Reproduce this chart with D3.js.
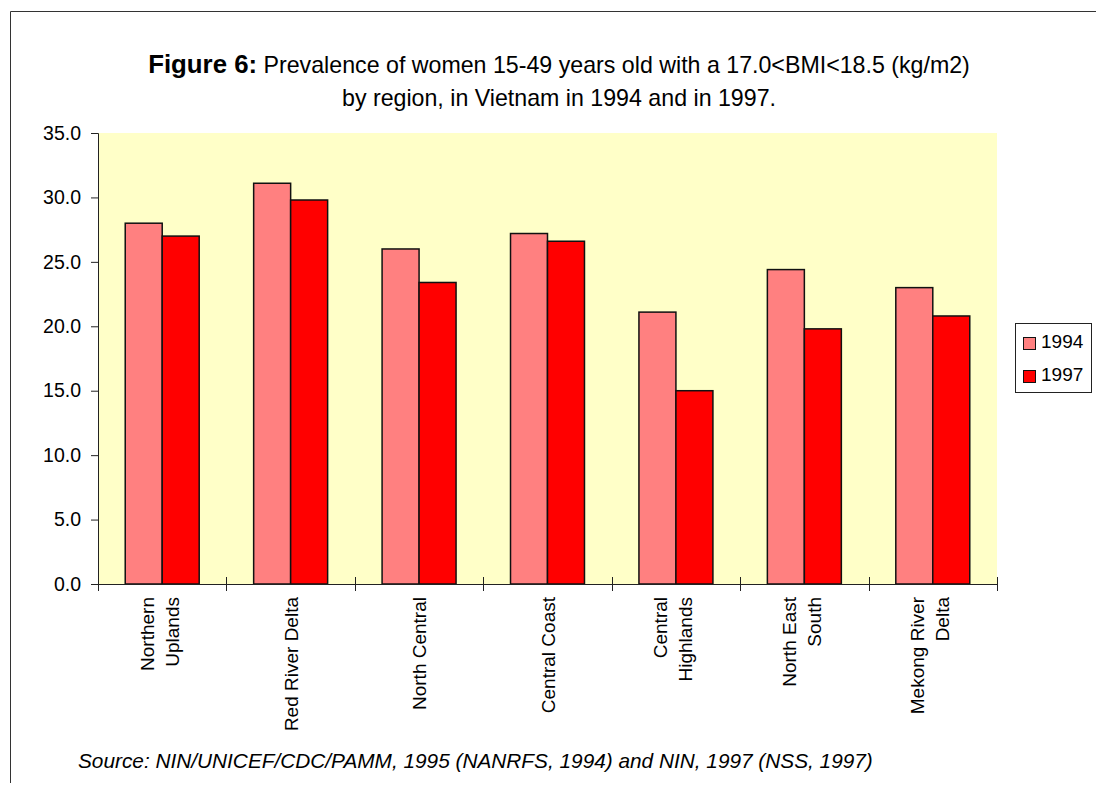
<!DOCTYPE html>
<html>
<head>
<meta charset="utf-8">
<script src="https://cdn.jsdelivr.net/npm/d3@7"></script>
<style>
  html, body { margin: 0; padding: 0; background: #fff; }
  svg { display: block; font-family: "Liberation Sans", Arial, sans-serif; }
</style>
</head>
<body>
<svg id="chart" width="1096" height="785"></svg>
<script>
// Regions and their wrapped axis labels
const regions = ["Northern Uplands", "Red River Delta", "North Central", "Central Coast",
                 "Central Highlands", "North East South", "Mekong River Delta"];
const regionLabelLines = [["Northern", "Uplands"], ["Red River Delta"], ["North Central"],
                          ["Central Coast"], ["Central", "Highlands"], ["North East", "South"],
                          ["Mekong River", "Delta"]];
const seriesNames = ["1994", "1997"];
const values1994 = [28.0, 31.1, 26.0, 27.2, 21.1, 24.4, 23.0];
const values1997 = [27.0, 29.8, 23.4, 26.6, 15.0, 19.8, 20.8];
const yTicks = [0, 5, 10, 15, 20, 25, 30, 35];
const seriesColors = ["#FF8080", "#FF0000"];

const svg = d3.select("#chart");

// Outer frame (top and left edges)
svg.append("path")
  .attr("d", "M10.5,783 V11.5 H1096")
  .attr("fill", "none").attr("stroke", "#333").attr("stroke-width", 1);

// Plot geometry
const plotLeft = 98, plotRight = 997, plotTop = 133, plotBottom = 584;

const x0 = d3.scaleBand().domain(regions).range([plotLeft, plotRight]).padding(0);
const x1 = d3.scaleBand().domain(seriesNames)
  .range([x0.bandwidth() * 0.212, x0.bandwidth() * 0.788]).padding(0);
const y = d3.scaleLinear().domain([0, 35]).range([plotBottom, plotTop]);

// Plot background
svg.append("rect")
  .attr("x", plotLeft).attr("y", plotTop)
  .attr("width", plotRight - plotLeft).attr("height", plotBottom - plotTop)
  .attr("fill", "#FFFFC8");

// Bars
const rows = regions.map((r, i) => ({ region: r, vals: [values1994[i], values1997[i]] }));
const groups = svg.append("g").selectAll("g").data(rows).join("g")
  .attr("transform", d => `translate(${x0(d.region)},0)`);
groups.selectAll("rect")
  .data(d => d.vals.map((v, k) => ({ key: seriesNames[k], v, k })))
  .join("rect")
  .attr("x", d => x1(d.key))
  .attr("y", d => y(d.v))
  .attr("width", x1.bandwidth())
  .attr("height", d => y(0) - y(d.v))
  .attr("fill", d => seriesColors[d.k])
  .attr("stroke", "#111")
  .attr("stroke-width", 1.5);

// Y axis
const yAxis = d3.axisLeft(y).tickValues(yTicks).tickFormat(d3.format(".1f")).tickSize(7).tickPadding(10);
const yG = svg.append("g").attr("transform", `translate(${plotLeft},0)`).call(yAxis);
yG.select(".domain").attr("stroke", "#222");
yG.selectAll(".tick line").attr("stroke", "#222");
yG.selectAll(".tick text").attr("font-size", 19.5).attr("fill", "#000")
  .attr("font-family", "Liberation Sans, Arial, sans-serif");

// X axis line and crossing tick marks at category boundaries
svg.append("line")
  .attr("x1", plotLeft - 7).attr("x2", plotRight)
  .attr("y1", plotBottom + 0.5).attr("y2", plotBottom + 0.5)
  .attr("stroke", "#222");
const boundaries = regions.map(r => x0(r)).concat([plotRight]);
svg.append("g").selectAll("line").data(boundaries).join("line")
  .attr("x1", d => Math.round(d) + 0.5).attr("x2", d => Math.round(d) + 0.5)
  .attr("y1", plotBottom - 7).attr("y2", plotBottom + 7)
  .attr("stroke", "#222");

// Rotated category labels; wrapped labels sit slightly left of the band centre
const lh = 25;
const labels = svg.append("g").selectAll("text").data(regions).join("text")
  .attr("transform", d => `translate(${x0(d) + x0.bandwidth() / 2},597) rotate(-90)`)
  .attr("text-anchor", "end")
  .attr("font-size", 19)
  .attr("fill", "#000");
labels.each(function(d, i) {
  const lines = regionLabelLines[i];
  const t = d3.select(this);
  const shift = lines.length > 1 ? -3 : 0;
  lines.forEach((ln, j) => {
    t.append("tspan")
      .attr("x", 0)
      .attr("y", (j - (lines.length - 1) / 2) * lh + 7 + shift)
      .text(ln);
  });
});

// Title
const title = svg.append("text")
  .attr("x", 559).attr("y", 73)
  .attr("text-anchor", "middle")
  .attr("font-size", 23.2).attr("fill", "#000");
title.append("tspan").attr("font-weight", "bold").attr("font-size", 25.8).text("Figure 6:");
title.append("tspan").text(" Prevalence of women 15-49 years old with a 17.0<BMI<18.5 (kg/m2)");
svg.append("text")
  .attr("x", 559).attr("y", 106)
  .attr("text-anchor", "middle")
  .attr("font-size", 23.2).attr("fill", "#000")
  .text("by region, in Vietnam in 1994 and in 1997.");

// Legend
const legend = svg.append("g");
legend.append("rect")
  .attr("x", 1015.5).attr("y", 323.5).attr("width", 76).attr("height", 69)
  .attr("fill", "#fff").attr("stroke", "#222");
const legRows = legend.selectAll("g").data(seriesNames).join("g")
  .attr("transform", (d, i) => `translate(1023,${337 + i * 33})`);
legRows.append("rect")
  .attr("x", 0.5).attr("y", 0.5).attr("width", 12).attr("height", 12)
  .attr("fill", (d, i) => seriesColors[i]).attr("stroke", "#111");
legRows.append("text")
  .attr("x", 18).attr("y", 10.5)
  .attr("font-size", 19).attr("fill", "#000")
  .text(d => d);

// Source note
svg.append("text")
  .attr("x", 78).attr("y", 768)
  .attr("font-size", 20.8).attr("font-style", "italic").attr("fill", "#000")
  .text("Source: NIN/UNICEF/CDC/PAMM, 1995 (NANRFS, 1994) and NIN, 1997 (NSS, 1997)");
</script>
</body>
</html>
